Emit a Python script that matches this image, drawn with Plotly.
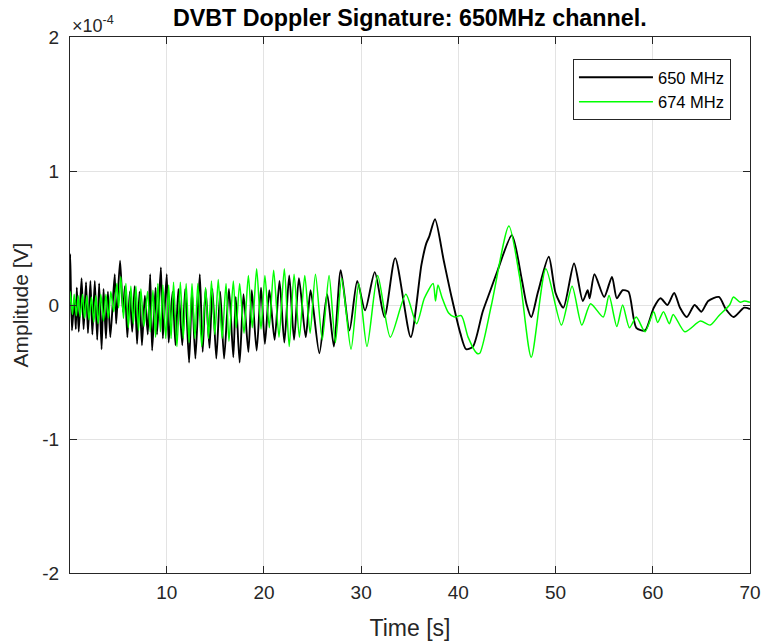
import plotly.graph_objects as go

# 650 MHz series (extrema), amplitude in units of 1e-4 V
t_650 = [0.0, 0.07, 0.25, 0.5, 0.65, 0.75, 0.95, 1.24, 1.45, 1.7, 1.9, 2.15, 2.35, 2.6, 2.85, 3.05,
         3.3, 3.5, 3.75, 3.95, 4.2, 4.65, 4.8, 5.2, 5.5, 5.7, 5.95, 6.2, 6.45, 6.7, 6.95, 7.2,
         7.45, 7.75, 8.05, 8.3, 8.5, 8.85, 9.0, 9.4, 9.6, 10.0, 10.2, 10.6, 10.9, 11.2, 11.6, 11.9,
         12.3, 12.6, 12.95, 13.4, 13.7, 14.0, 14.4, 14.7, 15.1, 15.5, 15.9, 16.4, 16.85, 17.1,
         17.5, 17.9, 18.4, 18.75, 19.25, 19.7, 20.1, 20.55, 21.1, 21.6, 22.1, 22.6, 23.1, 23.6,
         24.3, 24.8, 25.7, 26.5, 27.2, 27.9, 28.8, 29.6, 30.4, 31.4, 32.4, 33.5, 35.1, 36.2,
         36.7, 37.0, 37.6, 38.5, 39.3, 40.2, 40.8, 41.5, 42.5, 43.3, 44.0, 45.5, 46.5, 47.0,
         47.5, 48.2, 49.3, 50.0, 50.8, 51.9, 52.8, 53.3, 53.5, 54.0, 55.0, 55.8, 56.3, 56.9,
         57.5, 58.3, 59.2, 60.1, 60.8, 61.5, 62.2, 62.8, 63.5, 64.3, 65.0, 65.7, 66.8, 67.5,
         68.3, 69.4, 70.0]
v_650 = [0.10, 0.38, -0.19, 0.05, -0.18, 0.13, -0.20, 0.20, -0.18, 0.17, -0.21, 0.18, -0.22, 0.18, -0.26, 0.16,
         -0.33, 0.12, -0.25, 0.10, -0.24, 0.23, -0.14, 0.33, -0.05, 0.14, -0.24, 0.10, -0.20, 0.14, -0.29, 0.10,
         -0.30, 0.07, -0.22, 0.23, -0.34, 0.13, -0.22, 0.28, -0.25, 0.23, -0.28, 0.10, -0.30, 0.12, -0.30, 0.12,
         -0.43, 0.10, -0.40, 0.23, -0.35, 0.12, -0.32, 0.12, -0.40, 0.10, -0.40, 0.12, -0.39, 0.06,
         -0.43, 0.08, -0.35, 0.11, -0.34, 0.13, -0.29, 0.11, -0.26, 0.18, -0.28, 0.22, -0.26, 0.20,
         -0.24, 0.11, -0.36, 0.08, -0.31, 0.26, -0.19, 0.18, -0.04, 0.245, -0.09, 0.35, -0.24, 0.30,
         0.46, 0.51, 0.64, 0.33, 0.06, -0.21, -0.33, -0.31, -0.05, 0.11, 0.25, 0.52, 0.20, 0.01,
         -0.09, 0.10, 0.36, 0.09, -0.02, 0.31, 0.03, 0.11, 0.05, 0.23, 0.06, 0.21, 0.05, 0.11,
         0.10, -0.17, -0.19, -0.02, 0.05, 0.00, 0.09, -0.02, -0.09, 0.00, -0.05, 0.03, 0.06, -0.03,
         -0.09, -0.02, -0.03]

# 674 MHz series
t_674 = [0.0, 0.07, 0.3, 0.48, 0.7, 0.89, 1.1, 1.34, 1.55, 1.78, 2.0, 2.26, 2.5, 2.71, 2.95, 3.22,
         3.5, 3.74, 4.0, 4.25, 4.55, 4.87, 5.05, 5.28, 5.55, 5.8, 6.05, 6.31, 6.57, 6.83, 7.1, 7.34,
         7.65, 8.03, 8.3, 8.58, 8.85, 9.09, 9.35, 9.6, 9.9, 10.2, 10.45, 10.7, 11.05, 11.4, 11.7,
         12.0, 12.3, 12.6, 12.9, 13.2, 13.6, 14.0, 14.3, 14.6, 14.95, 15.3, 15.7, 16.1, 16.4,
         16.85, 17.15, 17.5, 17.95, 18.4, 18.8, 19.25, 19.7, 20.1, 20.55, 21.0, 21.55, 22.1,
         22.6, 23.1, 23.65, 24.2, 24.75, 25.3, 26.0, 26.7, 27.35, 28.0, 28.96, 29.75, 30.6,
         31.7, 33.0, 34.6, 35.7, 36.5, 37.4, 37.65, 37.9, 38.3, 39.0, 39.6, 40.3, 41.0, 41.9,
         42.2, 43.4, 45.2, 46.3, 47.5, 49.0, 50.6, 51.7, 52.7, 53.6, 54.9, 55.5, 56.3, 56.9,
         57.6, 58.3, 59.2, 60.1, 60.5, 61.1, 61.7, 62.1, 63.3, 64.9, 65.9, 66.8, 67.9, 68.3,
         69.0, 69.4, 70.0]
v_674 = [0.02, 0.10, -0.07, 0.08, -0.08, 0.07, -0.09, 0.08, -0.10, 0.07, -0.11, 0.06, -0.13, 0.07, -0.14, 0.08,
         -0.12, 0.08, -0.10, 0.10, -0.05, 0.16, -0.02, 0.21, -0.10, 0.16, -0.17, 0.14, -0.14, 0.14, -0.19, 0.12,
         -0.16, 0.10, -0.20, 0.11, -0.24, 0.16, -0.20, 0.15, -0.25, 0.15, -0.25, 0.17, -0.31, 0.17, -0.25,
         0.16, -0.28, 0.16, -0.25, 0.16, -0.31, 0.13, -0.25, 0.18, -0.22, 0.19, -0.25, 0.16, -0.27,
         0.18, -0.17, 0.16, -0.21, 0.22, -0.17, 0.27, -0.18, 0.22, -0.17, 0.26, -0.24, 0.27,
         -0.31, 0.23, -0.24, 0.22, -0.21, 0.23, -0.26, 0.22, -0.28, 0.20, -0.33, 0.16, -0.31,
         0.22, -0.24, 0.08, -0.14, 0.05, 0.16, 0.03, 0.15, 0.06, -0.06, -0.09, -0.08, -0.24, -0.36,
         -0.36, 0.00, 0.59, 0.21, -0.39, 0.27, -0.15, 0.14, -0.15, 0.01, -0.09, 0.07, -0.16, 0.00,
         -0.17, -0.09, -0.20, -0.05, -0.13, -0.05, -0.14, -0.07, -0.20, -0.12, -0.15, -0.08, 0.00, 0.06,
         0.02, 0.03, 0.02]

x_ticks = [10, 20, 30, 40, 50, 60, 70]
y_ticks = [-2, -1, 0, 1, 2]

FONT = "Liberation Sans, Arial, sans-serif"

fig = go.Figure()
fig.add_trace(go.Scatter(x=t_650, y=v_650, mode="lines", name="650 MHz",
                         line=dict(color="black", width=1.9, shape="spline", smoothing=0.7)))
fig.add_trace(go.Scatter(x=t_674, y=v_674, mode="lines", name="674 MHz",
                         line=dict(color="#00ff00", width=1.5, shape="spline", smoothing=0.7)))

axis_common = dict(showline=True, linecolor="#262626", linewidth=1, mirror="ticks",
                   ticks="inside", ticklen=7, tickcolor="#262626", automargin=False,
                   showgrid=True, gridcolor="#e3e3e3", gridwidth=1, zeroline=False,
                   tickfont=dict(family=FONT, size=19, color="#262626"))

fig.update_layout(
    width=761, height=643,
    paper_bgcolor="white", plot_bgcolor="white",
    margin=dict(l=70, r=11, t=37, b=70),
    title=dict(text="<b>DVBT Doppler Signature: 650MHz channel.</b>", x=0.5385, xanchor="center",
               y=0.972, yanchor="middle", font=dict(family=FONT, size=23.3, color="black")),
    xaxis=dict(range=[0.05, 70], tickvals=x_ticks, ticktext=[str(v) for v in x_ticks],
               ticklabelstandoff=2,
               title=dict(text="Time [s]", font=dict(family=FONT, size=23, color="#262626"), standoff=18),
               **axis_common),
    yaxis=dict(range=[-2, 2], tickvals=y_ticks, ticktext=[str(v) for v in y_ticks],
               ticklabelstandoff=6,
               title=dict(text="Amplitude [V]", font=dict(family=FONT, size=21, color="#262626"), standoff=7),
               **axis_common),
    legend=dict(x=0.972, y=0.959, xanchor="right", yanchor="top", bgcolor="white",
                bordercolor="#262626", borderwidth=1, itemwidth=74,
                font=dict(family=FONT, size=16.5, color="black"), tracegroupgap=0),
    showlegend=True,
)

fig.add_annotation(text="×10<sup>-4</sup>", xref="paper", yref="paper", x=0.0, y=1.0,
                   xanchor="left", yanchor="bottom", showarrow=False,
                   font=dict(family=FONT, size=18, color="#262626"), yshift=-1)

fig.write_html("out.html")
